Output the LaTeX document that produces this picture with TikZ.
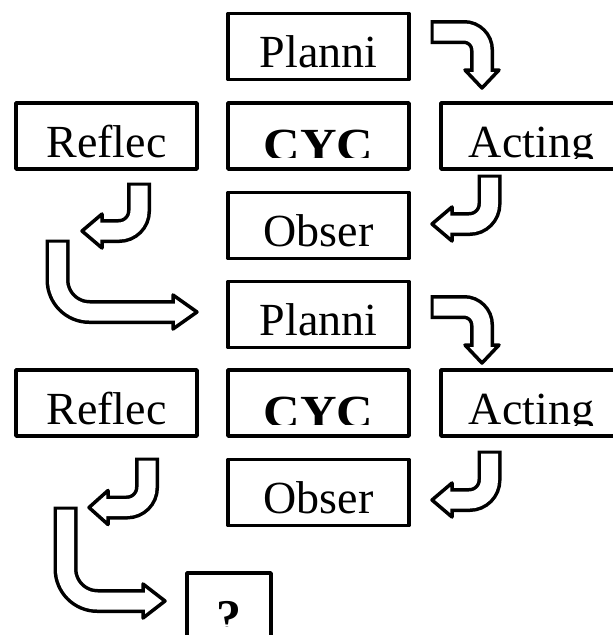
\documentclass[tikz,border=0pt]{standalone}
\usepackage{fontspec}
\setmainfont{Liberation Serif}
\usetikzlibrary{calc}
\tikzset{
  stagebox/.style={draw, line width=3.5pt, line join=round, outer sep=0pt, inner sep=0pt, minimum width=181pt, minimum height=66pt},
  lbl/.style={inner sep=0pt, outer sep=0pt, font=\fontsize{46}{50}\selectfont, anchor=base},
  arrowhead/.style={fill=white, draw=black, line width=3.5pt, line join=round},
}
% #1 node name, #2 text, #3 baseline offset, #4 clip offset
\newcommand\boxlabel[4]{%
  \begin{scope}
    \clip ($(#1.north west)$) rectangle ($(#1.south east)+(0pt,#4)$);
    \node[lbl] at ($(#1.south)+(0pt,#3)$) {#2};
  \end{scope}}
% #1 black shaft, #2 white shaft, #3 head polygon, #4 radius
\newcommand\blkarrow[4]{%
  \draw[line width=24pt, rounded corners=#4] #1;
  \filldraw[arrowhead] #3 -- cycle;
  \draw[white, line width=17pt, rounded corners=#4] #2;}
\begin{document}
\begin{tikzpicture}[x=1pt, y=-1pt]
\useasboundingbox (0,0) rectangle (613,635);
\clip (0,0) rectangle (613,635);
% cycle 1
\node[stagebox] (plan1) at (318.5,46.5) {};
\node[stagebox] (cyc1) at (318.5,136) {};
\node[stagebox] (refl1) at (106.5,136) {};
\node[stagebox] (act1) at (531.5,136) {};
\node[stagebox] (obs1) at (318.5,225.5) {};
% cycle 2
\node[stagebox] (plan2) at (318.5,314.5) {};
\node[stagebox] (cyc2) at (318.5,403) {};
\node[stagebox] (refl2) at (106.5,403) {};
\node[stagebox] (act2) at (531.5,403) {};
\node[stagebox] (obs2) at (318.5,492.5) {};
% question box
\node[stagebox, minimum width=84pt, minimum height=90pt] (q) at (229,618) {};
\boxlabel{plan1}{Planni}{12pt}{11pt}
\boxlabel{cyc1}{\scalebox{1.1}[1]{\bfseries CYC}}{9pt}{12pt}
\boxlabel{refl1}{Reflec}{12pt}{11pt}
\boxlabel{act1}{Acting}{12pt}{11pt}
\boxlabel{obs1}{Obser}{12pt}{11.5pt}
\boxlabel{plan2}{Planni}{12pt}{11pt}
\boxlabel{cyc2}{\scalebox{1.1}[1]{\bfseries CYC}}{9pt}{12pt}
\boxlabel{refl2}{Reflec}{12pt}{11pt}
\boxlabel{act2}{Acting}{12pt}{11pt}
\boxlabel{obs2}{Obser}{12pt}{11.5pt}
\begin{scope}
  \clip (q.north west) rectangle (250,626);
  \node[lbl, font=\fontsize{50}{54}\selectfont] (qtext) at (229,634) {\bfseries ?};
\end{scope}
% arrows cycle 1
\blkarrow{(430.5,32) -- (482,32) -- (482,70)}{(433.5,32) -- (482,32) -- (482,73)}{(465,70) -- (482,88) -- (499,70)}{18pt}
\blkarrow{(489.5,174.5) -- (489.5,224) -- (452,224)}{(489.5,177.5) -- (489.5,224) -- (449,224)}{(452,207) -- (432,224) -- (452,241)}{20pt}
\blkarrow{(139,182.5) -- (139,231) -- (102,231)}{(139,185.5) -- (139,231) -- (99,231)}{(102,214) -- (82,231) -- (102,248)}{20pt}
\blkarrow{(57.5,239.5) -- (57.5,312) -- (173,312)}{(57.5,242.5) -- (57.5,312) -- (176,312)}{(173,295) -- (197,312) -- (173,329)}{32pt}
% arrows cycle 2
\blkarrow{(430.5,307) -- (482,307) -- (482,345)}{(433.5,307) -- (482,307) -- (482,348)}{(465,345) -- (482,363) -- (499,345)}{18pt}
\blkarrow{(489.5,450.5) -- (489.5,500) -- (452,500)}{(489.5,453.5) -- (489.5,500) -- (449,500)}{(452,483) -- (432,500) -- (452,517)}{20pt}
\blkarrow{(147,457.5) -- (147,507.5) -- (108,507.5)}{(147,460.5) -- (147,507.5) -- (105,507.5)}{(108,490.5) -- (89,507.5) -- (108,524.5)}{20pt}
\blkarrow{(65.5,506.5) -- (65.5,601) -- (143,601)}{(65.5,509.5) -- (65.5,601) -- (146,601)}{(143,584) -- (165,601) -- (143,618)}{32pt}
\end{tikzpicture}
\end{document}
